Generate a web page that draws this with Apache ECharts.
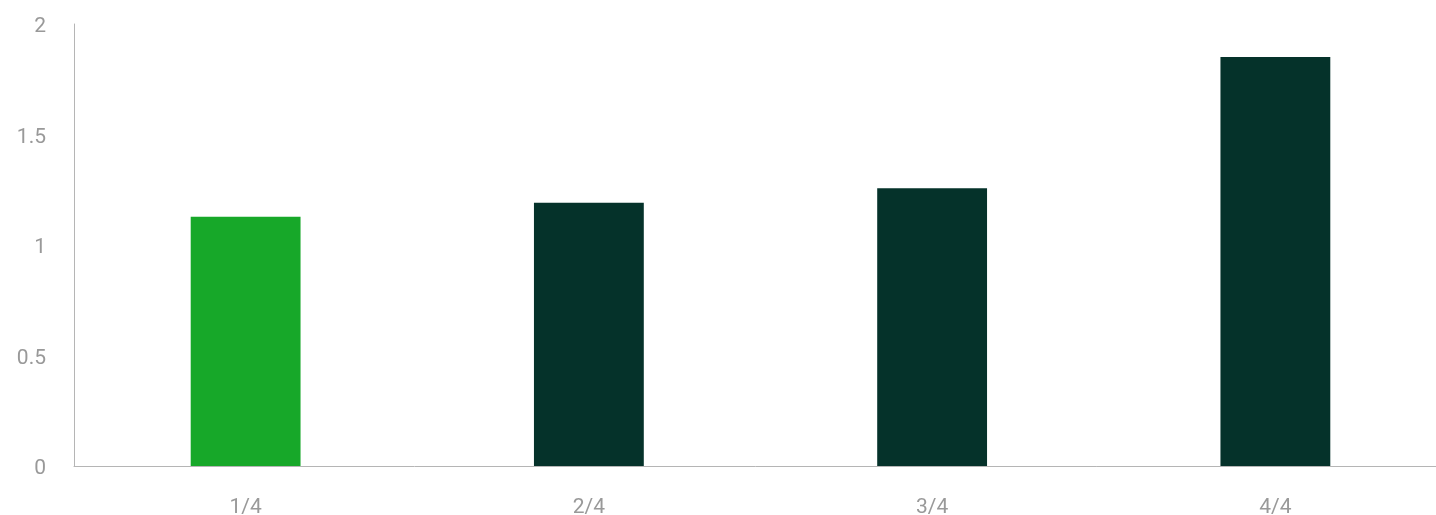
<!DOCTYPE html>
<html><head><meta charset="utf-8">
<script src="https://cdn.jsdelivr.net/npm/echarts@6/dist/echarts.min.js"></script>
<style>html,body{margin:0;padding:0;background:#fff}#c{width:1436px;height:515px}</style>
</head><body><div id="c"></div>
<script>
var categories = ['1/4', '2/4', '3/4', '4/4'];
var values = [1.128, 1.191, 1.257, 1.851];
var barColors = ['#17a829', '#05322a', '#05322a', '#05322a'];
var yTicks = [0, 0.5, 1, 1.5, 2];

var chart = echarts.init(document.getElementById('c'));
chart.setOption({
  animation: false,
  grid: { left: 74, right: -11, top: 24, bottom: 49, containLabel: false, outerBoundsMode: 'none' },
  xAxis: {
    type: 'category', data: categories,
    axisLine: { lineStyle: { color: '#b5b5b5', width: 1 } },
    axisTick: { show: false },
    axisLabel: { color: '#999', fontSize: 21, fontFamily: 'Roboto', margin: 31 }
  },
  yAxis: {
    type: 'value', min: yTicks[0], max: yTicks[yTicks.length - 1], interval: 0.5,
    axisLine: { show: true, lineStyle: { color: '#b5b5b5', width: 1 } },
    axisTick: { show: false },
    splitLine: { show: false },
    axisLabel: {
      color: '#999', fontSize: 21, fontFamily: 'Roboto', margin: 28,
      formatter: '{a|{value}}',
      rich: { a: { color: '#999', fontSize: 21, fontFamily: 'Roboto', padding: [6, 0, 0, 0] } }
    }
  },
  series: [{
    type: 'bar', barWidth: '32%',
    data: values.map(function (v, i) { return { value: v, itemStyle: { color: barColors[i] } }; })
  }]
});
</script></body></html>
